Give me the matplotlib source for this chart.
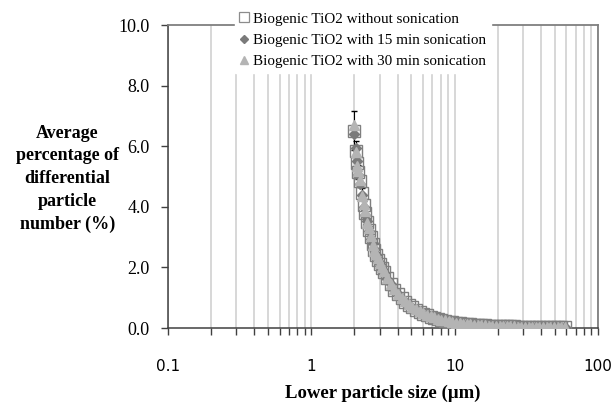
import matplotlib
matplotlib.use("Agg")
import matplotlib.pyplot as plt
from matplotlib.lines import Line2D
from matplotlib.ticker import LogLocator, FixedLocator, NullFormatter, FormatStrFormatter

size_um = [2.00, 2.04, 2.08, 2.12, 2.18, 2.25, 2.32, 2.38, 2.45, 2.52,
           2.60, 2.68, 2.76, 2.84, 2.93, 3.01, 3.10, 3.19, 3.38, 3.58,
           3.80, 4.02, 4.26, 4.52, 4.79, 5.08, 5.38, 5.71, 6.05, 6.41,
           6.80, 7.20, 7.64, 8.09, 8.58, 9.10, 9.64, 10.22, 10.83, 11.48,
           12.17, 12.90, 13.68, 14.50, 15.37, 16.29, 17.27, 18.30, 19.40, 20.57,
           21.80, 23.11, 24.49, 25.96, 27.52, 29.17, 30.92, 32.78, 34.75, 36.83,
           39.04, 41.38, 43.87, 46.50, 49.29, 52.24, 55.38, 58.70]

no_sonication = [6.52, 5.86, 5.45, 5.15, 4.85, 4.45, 4.05, 3.80, 3.50, 3.25,
                 3.00, 2.78, 2.58, 2.42, 2.26, 2.12, 1.98, 1.86, 1.64, 1.45,
                 1.27, 1.12, 0.98, 0.87, 0.77, 0.68, 0.60, 0.54, 0.48, 0.43,
                 0.38, 0.34, 0.30, 0.27, 0.24, 0.21, 0.19, 0.17, 0.155, 0.140,
                 0.128, 0.118, 0.108, 0.100, 0.092, 0.086, 0.080, 0.075, 0.070, 0.066,
                 0.062, 0.058, 0.055, 0.052, 0.050, 0.048, 0.046, 0.044, 0.042, 0.040,
                 0.039, 0.038, 0.037, 0.036, 0.035, 0.034, 0.033, 0.032]

no_sonication_err = [0.65, 0.30, 0.25, 0.22, 0.20, 0.18, 0.16, 0.15, 0.14, 0.13,
                     0.12, 0.11, 0.10, 0.10, 0.09, 0.09, 0.08, 0.08, 0.07, 0.07,
                     0.06, 0.06, 0.05, 0.05, 0.04, 0.04, 0.04, 0.03, 0.03, 0.03,
                     0.03, 0.02, 0.02, 0.02, 0.02, 0.02, 0.02, 0.01, 0.01, 0.01,
                     0.01, 0.01, 0.01, 0.01, 0.01, 0.01, 0.01, 0.01, 0.01, 0.01,
                     0.01, 0.01, 0.01, 0.01, 0.01, 0.01, 0.01, 0.01, 0.01, 0.01,
                     0.01, 0.01, 0.01, 0.01, 0.01, 0.01, 0.01, 0.01]

son_15min = [6.40, 5.95, 5.50, 5.05, 4.75, 4.40, 4.00, 3.72, 3.52, 3.20,
             2.95, 2.80, 2.60, 2.40, 2.22, 2.10, 1.95, 1.83, 1.62, 1.44,
             1.25, 1.11, 0.97, 0.86, 0.76, 0.67, 0.59, 0.53, 0.47, 0.42,
             0.37, 0.34, 0.30, 0.26, 0.23, 0.21, 0.18, 0.165, 0.150, 0.135,
             0.124, 0.114, 0.105, 0.097, 0.090, 0.084, 0.078, 0.073, 0.068, 0.064,
             0.060, 0.056, 0.053, 0.050, 0.048, 0.046, 0.044, 0.042, 0.040, 0.038,
             0.037, 0.036, 0.035, 0.034, 0.033, 0.032, 0.031, 0.030]

son_30min = [6.70, 5.80, 5.35, 5.20, 4.90, 4.35, 4.10, 3.85, 3.46, 3.30,
             3.05, 2.75, 2.55, 2.45, 2.30, 2.15, 2.00, 1.88, 1.66, 1.47,
             1.29, 1.14, 1.00, 0.89, 0.79, 0.70, 0.62, 0.55, 0.49, 0.44,
             0.39, 0.35, 0.31, 0.28, 0.25, 0.22, 0.20, 0.18, 0.16, 0.145,
             0.132, 0.122, 0.112, 0.103, 0.095, 0.088, 0.082, 0.077, 0.072, 0.068,
             0.064, 0.060, 0.057, 0.054, 0.051, 0.049, 0.047, 0.045, 0.043, 0.041,
             0.040, 0.039, 0.037, 0.036, 0.035, 0.034, 0.033, 0.032]

labels = ["Biogenic TiO2 without sonication",
          "Biogenic TiO2 with 15 min sonication",
          "Biogenic TiO2 with 30 min sonication"]
x_ticks = [0.1, 1, 10, 100]
x_tick_labels = ["0.1", "1", "10", "100"]
y_ticks = [0, 2, 4, 6, 8, 10]

serif = "Liberation Serif"
sq_col = "#7f7f7f"
dia_col = "#7a7a7a"
tri_col = "#b4b4b4"

fig = plt.figure(figsize=(6.12, 4.05), dpi=100)
ax = fig.add_axes([0.2745, 0.19, 0.7025, 0.748])

ax.errorbar(size_um, no_sonication, yerr=no_sonication_err, fmt="s",
            ms=9, mfc="none", mec=sq_col, mew=1.0,
            ecolor="black", elinewidth=0.8, capsize=2.5, capthick=0.8,
            zorder=3)
ax.plot(size_um, son_15min, "D", ms=5, color=dia_col, mec=dia_col, zorder=4)
ax.plot(size_um, son_30min, "^", ms=6.5, color=tri_col, mec=tri_col, zorder=5)

ax.set_xscale("log")
ax.set_xlim(0.1, 100)
ax.set_ylim(0, 10)
ax.xaxis.set_major_locator(FixedLocator(x_ticks))
ax.set_xticklabels(x_tick_labels, fontfamily="DejaVu Sans", fontsize=11)
ax.xaxis.set_minor_locator(LogLocator(base=10, subs=[2, 3, 4, 5, 6, 7, 8, 9]))
ax.xaxis.set_minor_formatter(NullFormatter())
ax.set_yticks(y_ticks)
ax.yaxis.set_major_formatter(FormatStrFormatter("%.1f"))
for t in ax.get_yticklabels():
    t.set_fontfamily(serif)
    t.set_fontsize(13)

ax.tick_params(axis="both", which="both", direction="out", length=5,
               width=1, color="#404040")
ax.tick_params(axis="x", which="major", pad=17)
ax.tick_params(axis="y", which="major", pad=8)
ax.grid(True, which="both", axis="x", color="#d4d4d4", lw=1.3, zorder=0)
ax.set_axisbelow(True)

for s in ["left", "bottom"]:
    ax.spines[s].set_color("#404040")
    ax.spines[s].set_linewidth(1.1)
for s in ["top", "right"]:
    ax.spines[s].set_color("#7f7f7f")
    ax.spines[s].set_linewidth(1.3)

ax.set_xlabel("Lower particle size (\u00b5m)", fontfamily=serif,
              fontweight="bold", fontsize=13.5, labelpad=8)
fig.text(0.11, 0.558, "Average\npercentage of\ndifferential\nparticle\nnumber (%)",
         ha="center", va="center", fontfamily=serif, fontweight="bold",
         fontsize=13, linespacing=1.45)

handles = [
    Line2D([], [], ls="none", marker="s", ms=6.5, mfc="white", mec="#8c8c8c", mew=0.9),
    Line2D([], [], ls="none", marker="D", ms=4.5, color=dia_col),
    Line2D([], [], ls="none", marker="^", ms=5.5, color=tri_col),
]
leg = ax.legend(handles, labels, loc="upper center", bbox_to_anchor=(0.593, 1.0),
                bbox_transform=fig.transFigure, frameon=True,
                facecolor="white", edgecolor="white", framealpha=1,
                prop={"family": serif, "size": 10.9},
                handlelength=0.6, handletextpad=0.3, labelspacing=0.5,
                borderpad=0.3, fancybox=False)
leg.set_zorder(10)

fig.savefig("out.png", dpi=100)
